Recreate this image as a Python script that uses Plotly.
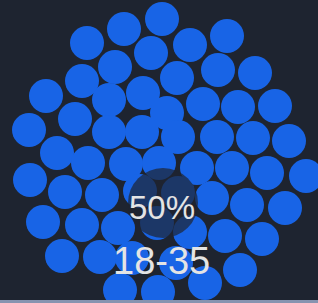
import plotly.graph_objects as go

# circle centres (pixel-like data units)
circle_x = [162, 124, 227, 87, 190, 151,
            115, 218, 255, 177, 82,
            46, 143, 109, 203, 238, 275, 167, 75,
            29, 142, 109, 178, 217, 253, 289,
            57, 88, 126, 159, 197, 232, 267, 306,
            30, 65, 102, 140, 178, 212, 247, 285,
            43, 82, 118, 157, 190, 225, 262,
            62, 100, 132, 176, 240, 205,
            120, 158]
circle_y = [19, 29, 36, 43, 45, 53,
            67, 70, 73, 78, 81,
            96, 93, 100, 104, 107, 106, 113, 119,
            130, 132, 132, 137, 137, 138, 141,
            153, 163, 164, 163, 168, 168, 173, 176,
            180, 192, 195, 191, 193, 198, 205, 208,
            222, 225, 228, 223, 232, 236, 239,
            256, 257, 258, 263, 270, 283,
            290, 292]
center_value = "50%"
center_label = "18-35"
center_x, center_y, center_r = 163, 203, 35

BG = "#1e2430"
BLUE = "#1864e6"

fig = go.Figure()
fig.add_trace(go.Scatter(
    x=circle_x, y=circle_y, mode="markers",
    marker=dict(size=34, color=BLUE, line=dict(width=0)),
    hoverinfo="skip", showlegend=False,
))
fig.add_shape(type="circle", xref="x", yref="y",
              x0=center_x - center_r, x1=center_x + center_r,
              y0=center_y - center_r, y1=center_y + center_r,
              fillcolor="rgba(30,36,48,0.7)", line=dict(width=0), layer="above")
fig.add_annotation(x=center_x - 1, y=207, text=center_value, showarrow=False,
                   xanchor="center", yanchor="middle",
                   font=dict(family="Liberation Sans, Arial", size=33, color="#e4e4e4"))
fig.add_annotation(x=center_x - 2, y=261, text=center_label, showarrow=False,
                   xanchor="center", yanchor="middle",
                   font=dict(family="Liberation Sans, Arial", size=38, color="#e4e4e4"))
# bottom strip
fig.add_shape(type="rect", xref="paper", yref="paper", x0=0, x1=1, y0=-0.01, y1=0,
              fillcolor="#8793b0", line=dict(width=0))

fig.update_layout(
    width=318, height=303,
    margin=dict(l=0, r=0, t=0, b=3),
    paper_bgcolor=BG, plot_bgcolor=BG,
    xaxis=dict(range=[0, 318], visible=False, fixedrange=True),
    yaxis=dict(range=[300, 0], visible=False, fixedrange=True),
)
fig.write_html("out.html", config={"displayModeBar": False},
               post_script="document.body.style.margin='0';document.body.style.overflow='hidden';")
